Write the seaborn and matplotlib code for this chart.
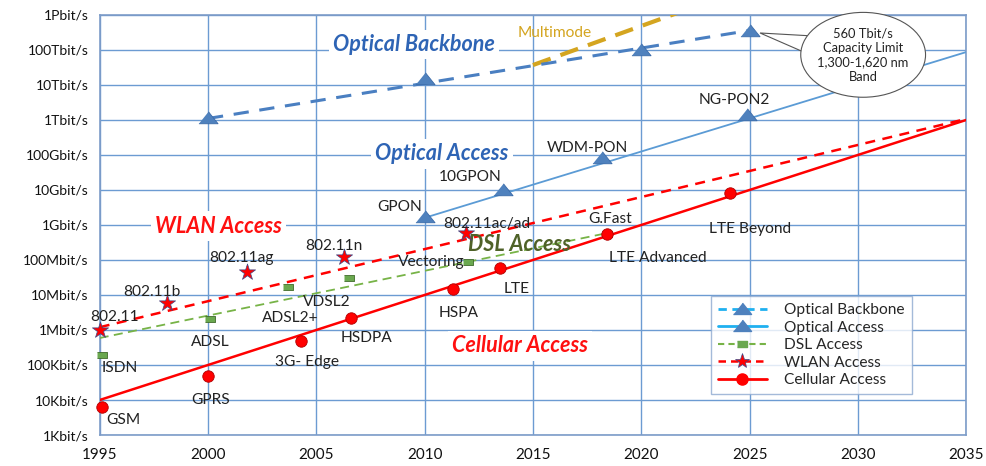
import numpy as np
import pandas as pd
import matplotlib.pyplot as plt
import seaborn as sns
from matplotlib.lines import Line2D
from matplotlib.patches import Ellipse, Polygon

sns.set_theme(style='white')
plt.rcParams['font.family'] = ['Lato', 'DejaVu Sans']

# axis ticks
year_ticks = [1995, 2000, 2005, 2010, 2015, 2020, 2025, 2030, 2035]
rate_ticks = [1e3, 1e4, 1e5, 1e6, 1e7, 1e8, 1e9, 1e10, 1e11, 1e12, 1e13, 1e14, 1e15]
rate_labels = ['1Kbit/s', '10Kbit/s', '100Kbit/s', '1Mbit/s', '10Mbit/s', '100Mbit/s',
               '1Gbit/s', '10Gbit/s', '100Gbit/s', '1Tbit/s', '10Tbit/s', '100Tbit/s', '1Pbit/s']

# technology points (year, bit/s)
cell_names = ['GSM', 'GPRS', '3G- Edge', 'HSDPA', 'HSPA', 'LTE', 'LTE Advanced', 'LTE Beyond']
cell_years = [1995.1, 2000.0, 2004.3, 2006.6, 2011.3, 2013.5, 2018.4, 2024.1]
cell_rates = [6.3e3, 4.9e4, 4.9e5, 2.2e6, 1.5e7, 5.9e7, 5.5e8, 8.1e9]

wlan_names = ['802.11', '802.11b', '802.11ag', '802.11n', '802.11ac/ad']
wlan_years = [1995.0, 1998.1, 2001.8, 2006.3, 2011.9]
wlan_rates = [1.0e6, 5.9e6, 4.6e7, 1.2e8, 5.9e8]

dsl_names = ['ISDN', 'ADSL', 'ADSL2+', 'VDSL2', 'Vectoring', 'G.Fast']
dsl_years = [1995.1, 2000.1, 2003.7, 2006.5, 2012.0, 2018.4]
dsl_rates = [1.95e5, 2.0e6, 1.7e7, 3.1e7, 8.7e7, 5.5e8]

pon_names = ['GPON', '10GPON', 'WDM-PON', 'NG-PON2']
pon_years = [2010.0, 2013.6, 2018.2, 2024.9]
pon_rates = [1.7e9, 1.0e10, 8.1e10, 1.4e12]

backbone_years = [2000.0, 2010.0, 2020.0, 2025.0]
backbone_rates = [1.15e12, 1.5e13, 1.0e14, 3.5e14]

# trend lines
backbone_trend_years = [2000, 2025]
backbone_trend_rates = [1.1e12, 3.6e14]
pon_trend_years = [2010, 2035]
pon_trend_rates = [1.6e9, 8.7e13]
dsl_trend_years = [1995, 2018.5]
dsl_trend_rates = [5.9e5, 6.0e8]
wlan_trend_years = [1995, 2035]
wlan_trend_rates = [1.2e6, 1.07e12]
cell_trend_years = [1995, 2035]
cell_trend_rates = [1.0e4, 1.0e12]
multimode_years = [2015, 2022]
multimode_rates = [3.7e13, 1.35e15]

# label offsets in pixels (dx, dy) from the marker
cell_offsets = [(21, -13), (3, -24), (6, -21), (16, -20), (6, -24), (16, -21), (51, -24), (20, -36)]
wlan_offsets = [(15, 13), (-15, 11), (-6, 14), (-11, 11), (21, 9)]
dsl_offsets = [(18, -13), (0, -23), (2, -31), (-22, -24), (-37, 0), (3, 15)]
pon_offsets = [(-25, 10), (-32, 13), (-15, 10), (-13, 15)]

BLUE = '#4a7fc1'
LBLUE = '#5b9bd5'
GREEN = '#77b347'
RED = '#ff0000'
GOLD = '#d4a520'
GRID = '#6c9bd2'

# flat triangle and wide rectangle markers like the original
tri = [(-1, -0.55), (1, -0.55), (0, 0.7)]
rect = [(-1.5, -1), (1.5, -1), (1.5, 1), (-1.5, 1)]

fig, ax = plt.subplots(figsize=(9.87, 4.66), dpi=100)
fig.subplots_adjust(left=0.101, right=0.979, bottom=0.0665, top=0.968)
ax.set_yscale('log')

# trend lines
sns.lineplot(x=multimode_years, y=multimode_rates, ax=ax, color=GOLD, lw=3,
             linestyle=(0, (4.5, 2.5)), zorder=3)
sns.lineplot(x=backbone_trend_years, y=backbone_trend_rates, ax=ax, color=BLUE, lw=2.2,
             linestyle=(0, (5, 3.5)), zorder=3)
sns.lineplot(x=pon_trend_years, y=pon_trend_rates, ax=ax, color=LBLUE, lw=1.3, zorder=3)
sns.lineplot(x=dsl_trend_years, y=dsl_trend_rates, ax=ax, color=GREEN, lw=1.3,
             linestyle=(0, (5, 3)), zorder=3)
sns.lineplot(x=wlan_trend_years, y=wlan_trend_rates, ax=ax, color=RED, lw=1.8,
             linestyle=(0, (4, 3)), zorder=3)
sns.lineplot(x=cell_trend_years, y=cell_trend_rates, ax=ax, color=RED, lw=1.8, zorder=3)

# markers
sns.scatterplot(x=backbone_years, y=backbone_rates, ax=ax, marker=tri, s=190, color='#4f81bd',
                edgecolor='#3a6aa8', linewidth=0.6, zorder=5, clip_on=False)
sns.scatterplot(x=pon_years, y=pon_rates, ax=ax, marker=tri, s=190, color='#4f81bd',
                edgecolor='#3a6aa8', linewidth=0.6, zorder=5, clip_on=False)
sns.scatterplot(x=dsl_years, y=dsl_rates, ax=ax, marker=rect, s=55, color='#6aa84f',
                edgecolor='#3f6a2a', linewidth=0.6, zorder=5, clip_on=False)
sns.scatterplot(x=wlan_years, y=wlan_rates, ax=ax, marker='*', s=150, color=RED,
                edgecolor='#3b4a8a', linewidth=0.5, zorder=6, clip_on=False)
sns.scatterplot(x=cell_years, y=cell_rates, ax=ax, marker='o', s=68, color=RED,
                edgecolor='#b00000', linewidth=0.6, zorder=6, clip_on=False)

# point labels
for names, xs, ys, offs in [(cell_names, cell_years, cell_rates, cell_offsets),
                            (wlan_names, wlan_years, wlan_rates, wlan_offsets),
                            (dsl_names, dsl_years, dsl_rates, dsl_offsets),
                            (pon_names, pon_years, pon_rates, pon_offsets)]:
    for n, x, y, (dx, dy) in zip(names, xs, ys, offs):
        ax.annotate(n, (x, y), xytext=(dx, dy), textcoords='offset pixels',
                    ha='center', va='center', fontsize=11.2, color='#222222', zorder=7)

# category labels
big = dict(fontsize=15.5, fontweight='bold', style='italic', ha='center', va='center', zorder=4)
wbox = dict(facecolor='white', edgecolor='none', pad=3)
ax.text(2009.5, 1.4e14, 'Optical Backbone', color='#2e64b5', bbox=wbox, **big)
ax.text(2010.8, 1.07e11, 'Optical Access', color='#2e64b5', bbox=wbox, **big)
ax.text(2000.5, 9.3e8, 'WLAN Access', color='#ff1010', bbox=wbox, **big)
ax.text(2014.4, 2.7e8, 'DSL Access', color='#4f6228', **big)
ax.text(2014.4, 3.5e5, 'Cellular Access', color='#ff1010', bbox=wbox, **big)
ax.text(2016.0, 3.1e14, 'Multimode', color=GOLD, fontsize=11.2, ha='center', va='center', zorder=4)

# callout
tail = Polygon([(0.762, 0.957), (0.822, 0.950), (0.812, 0.912)], closed=True,
               transform=ax.transAxes, facecolor='white', edgecolor='#555555', lw=0.8, zorder=8)
ax.add_patch(tail)
ell = Ellipse((0.881, 0.905), 0.144, 0.202, transform=ax.transAxes, facecolor='white',
              edgecolor='#555555', lw=0.8, zorder=9, clip_on=False)
ax.add_patch(ell)
ax.text(0.881, 0.905, '560 Tbit/s\nCapacity Limit\n1,300-1,620 nm\nBand', transform=ax.transAxes,
        ha='center', va='center', fontsize=9.3, color='#222222', linespacing=1.25, zorder=10)

# axes styling
ax.set_xlim(1995, 2035)
ax.set_ylim(1e3, 1e15)
ax.set_xticks(year_ticks)
ax.set_xticklabels([str(y) for y in year_ticks], fontsize=11)
ax.set_yticks(rate_ticks)
ax.set_yticklabels(rate_labels, fontsize=10)
ax.minorticks_off()
ax.tick_params(axis='x', length=0, pad=9, colors='#111111')
ax.tick_params(axis='y', length=0, pad=8, colors='#111111')
ax.grid(True, color=GRID, lw=1.0, zorder=0)
ax.set_axisbelow(True)
for s in ax.spines.values():
    s.set_color('#7d9cc8')
    s.set_linewidth(1.2)
ax.set_xlabel('')
ax.set_ylabel('')

# legend
handles = [
    Line2D([], [], color='#1fb0f0', lw=2, linestyle=(0, (3, 2)), marker=tri, markersize=13,
           markerfacecolor='#4f81bd', markeredgecolor='#4f81bd'),
    Line2D([], [], color='#1fb0f0', lw=2, marker=tri, markersize=13,
           markerfacecolor='#4f81bd', markeredgecolor='#4f81bd'),
    Line2D([], [], color=GREEN, lw=1.5, linestyle=(0, (3, 2)), marker=rect, markersize=7,
           markerfacecolor='#6aa84f', markeredgecolor='#6aa84f'),
    Line2D([], [], color=RED, lw=1.8, linestyle=(0, (3, 2)), marker='*', markersize=11,
           markerfacecolor=RED, markeredgecolor='#3b4a8a', markeredgewidth=0.5),
    Line2D([], [], color=RED, lw=2, marker='o', markersize=8,
           markerfacecolor=RED, markeredgecolor=RED),
]
labels = ['Optical Backbone', 'Optical Access', 'DSL Access', 'WLAN Access', 'Cellular Access']
leg = ax.legend(handles, labels, loc='lower left', bbox_to_anchor=(0.696, 0.079), fontsize=11.2,
                frameon=True, fancybox=False, handlelength=3.2, labelspacing=0.22,
                borderpad=0.45, handletextpad=1.1)
leg.get_frame().set_edgecolor('#8da9d0')
leg.get_frame().set_linewidth(1.0)
leg.set_zorder(11)

fig.savefig('out.png', dpi=100, facecolor='white')
